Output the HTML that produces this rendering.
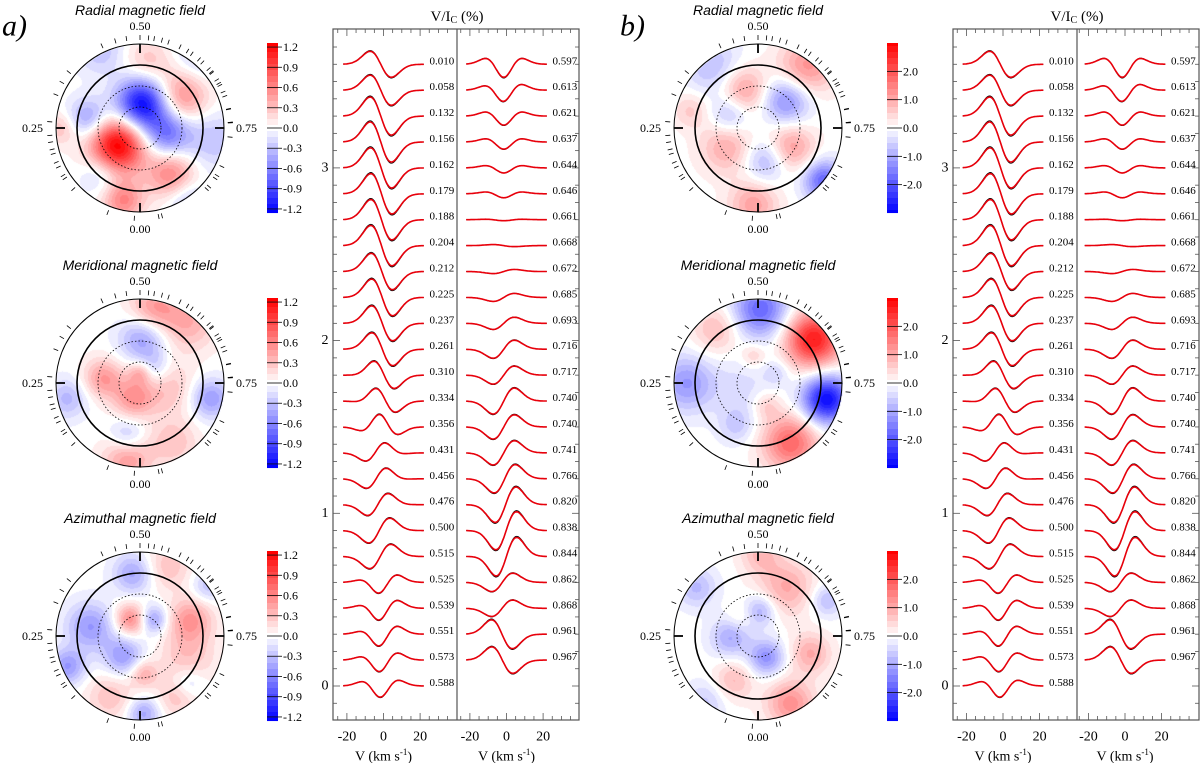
<!DOCTYPE html>
<html><head><meta charset="utf-8">
<style>
html,body{margin:0;padding:0;background:#fff;}
#wrap{position:relative;width:1200px;height:763px;overflow:hidden;background:#fff;}
canvas{position:absolute;}
svg{position:absolute;left:0;top:0;}
</style></head>
<body>
<div id="wrap">
<svg id="fig" width="1200" height="763" viewBox="0 0 1200 763"></svg>
</div>
<script>
// ---------- profile data ----------
const phasesLeft = ["0.010","0.058","0.132","0.156","0.162","0.179","0.188","0.204","0.212","0.225","0.237","0.261","0.310","0.334","0.356","0.431","0.456","0.476","0.500","0.515","0.525","0.539","0.551","0.573","0.588"];
const phasesRight = ["0.597","0.613","0.621","0.637","0.644","0.646","0.661","0.668","0.672","0.685","0.693","0.716","0.717","0.740","0.740","0.741","0.766","0.820","0.838","0.844","0.862","0.868","0.961","0.967"];
const antiLeft = [0.075,0.087,0.11,0.116,0.116,0.116,0.116,0.116,0.104,0.104,0.099,0.093,0.07,0.052,0.017,-0.035,-0.046,-0.058,-0.07,-0.07,-0.023,-0.023,-0.023,-0.017,-0.006];
const dipLeft = [0,0,0,0,-0.006,-0.012,-0.012,-0.012,-0.017,-0.023,-0.023,-0.023,-0.041,-0.052,-0.07,-0.046,-0.041,-0.029,-0.017,-0.006,0.058,0.064,0.064,0.064,0.064];
const antiRight = [0,-0.006,0,0,0,0,0,0.006,-0.012,-0.023,-0.035,-0.052,-0.052,-0.075,-0.07,-0.07,-0.081,-0.099,-0.104,-0.104,-0.052,-0.046,0.081,0.075];
const dipRight = [0.075,0.064,0.052,0.041,0.029,0.023,0.006,0,0,0,0,0,0,0,0,0,0.012,0.029,0.041,0.046,-0.012,-0.012,0.023,0.017];
const profileStep = 0.15;
const yTickLabels = ["0","1","2","3"];
const xTickLabels = ["-20","0","20"];
const colorbarLabelsA = ["1.2","0.9","0.6","0.3","0.0","-0.3","-0.6","-0.9","-1.2"];
const colorbarValuesA = [1.2,0.9,0.6,0.3,0,-0.3,-0.6,-0.9,-1.2];
const colorbarLabelsB = ["2.0","1.0","0.0","-1.0","-2.0"];
const colorbarValuesB = [2,1,0,-1,-2];
const mapTitles = ["Radial magnetic field","Meridional magnetic field","Azimuthal magnetic field"];
// map blobs: [dx, dy, sigma, amplitude]
const blobsA1 = [[2,-25,13,-1.25],[27,5,12,-0.7],[-23,17,14,1.3],[-52,-10,10,-0.5],[40,-31,13,0.6],[30,45,12,0.6],[7,-66,12,0.3],[-40,-78,12,-0.3],[60,-75,12,-0.3],[-80,0,8,0.3],[73,12,14,-0.3],[-17,72,10,0.6],[-40,45,10,-0.3],[47,72,10,-0.3]];
const blobsA2 = [[-37,-5,10,0.5],[-7,15,10,0.5],[0,-11,6,0.4],[13,-75,12,0.5],[47,-61,14,0.4],[27,5,14,0.3],[-13,75,12,0.5],[33,59,12,0.3],[3,-45,12,-0.5],[13,-15,8,-0.3],[-73,15,10,-0.35],[70,15,10,-0.5],[-13,52,9,-0.35]];
const blobsA3 = [[-10,-17,8,0.6],[13,-17,7,-0.5],[-50,-10,12,-0.5],[-17,20,10,-0.5],[-73,30,9,-0.5],[50,-17,11,0.5],[47,20,14,0.3],[3,37,7,0.4],[-7,-63,10,-0.45],[27,-70,12,0.3],[67,-50,8,-0.3],[-30,60,12,0.3],[3,77,8,-0.45],[37,60,10,0.3],[47,47,8,-0.3]];
const blobsB1 = [[-15,-38,12,1.2],[28,-28,12,-1.4],[-28,-14,10,-0.9],[-32,19,13,1.0],[32,19,12,1.2],[8,32,11,-1.0],[48,-61,14,1.3],[-45,-61,14,-0.8],[-5,76,12,1.1],[65,52,10,-1.8],[-68,-18,9,0.6]];
const blobsB2 = [[2,-74,14,-1.8],[55,-44,14,2.7],[68,16,12,-2.9],[32,59,14,1.8],[-72,0,14,-1.2],[-22,42,9,-0.6],[-42,-54,12,0.8],[-15,6,16,-0.4],[-5,-28,6,0.6],[18,-11,6,-0.5],[8,22,7,0.6]];
const blobsB3 = [[2,-26,8,-1.0],[-28,1,10,-1.0],[8,21,9,-1.3],[28,-49,14,1.0],[52,17,10,1.0],[-25,44,10,0.8],[32,67,12,1.3],[2,-83,10,0.8],[-62,-49,10,-0.8],[68,-36,8,-0.8],[-52,64,10,-0.6],[-18,-19,7,0.4]];

// ---------- helpers ----------
const NS="http://www.w3.org/2000/svg";
const svg=document.getElementById('fig');
const wrap=document.getElementById('wrap');
function mk(tag,attrs,parent){const e=document.createElementNS(NS,tag);for(const k in attrs)e.setAttribute(k,attrs[k]);(parent||svg).appendChild(e);return e;}
function txt(s,x,y,size,anchor,family,style,parent){const t=mk('text',{x:x,y:y,'font-size':size,'text-anchor':anchor||'middle','font-family':family||'"Liberation Serif",serif','font-style':style||'normal','dominant-baseline':'central'},parent);t.textContent=s;return t;}
function fieldColor(v,max){let t=v/max;if(t>1)t=1;if(t<-1)t=-1;const q=Math.round(t*14)/14;const s=Math.abs(q);if(s<0.5/14)return[255,255,255];const c=Math.round(255*(1-s));return q>0?[255,c,c]:[c,c,255];}

const R=84;
const SIG=1.4;
const mapCY=[128,383,636];
const phaseAll=phasesLeft.concat(phasesRight).map(Number);

function drawMap(cx,cy,blobs,max,title,name){
  const cv=document.createElement('canvas');
  cv.width=2*R+2;cv.height=2*R+2;cv.style.left=(cx-R-1)+'px';cv.style.top=(cy-R-1)+'px';
  
  
  wrap.insertBefore(cv,svg);
  const ctx=cv.getContext('2d');const img=ctx.createImageData(cv.width,cv.height);
  for(let y=0;y<cv.height;y++)for(let x=0;x<cv.width;x++){
    const dx=x-R-1,dy=y-R-1;if(dx*dx+dy*dy>R*R)continue;
    let v=0;for(const b of blobs){const ex=dx-b[0],ey=dy-b[1];const s=b[2]*SIG;v+=b[3]*Math.exp(-(ex*ex+ey*ey)/(2*s*s));}
    const c=fieldColor(v,max);const i=(y*cv.width+x)*4;img.data[i]=c[0];img.data[i+1]=c[1];img.data[i+2]=c[2];img.data[i+3]=255;}
  ctx.putImageData(img,0,0);
  const g=mk('g',{});
  
  
  mk('circle',{cx:cx,cy:cy,r:R,fill:'none',stroke:'#000','stroke-width':1},g);
  mk('circle',{cx:cx,cy:cy,r:63,fill:'none',stroke:'#000','stroke-width':1.6},g);
  mk('circle',{cx:cx,cy:cy,r:42,fill:'none',stroke:'#000','stroke-width':0.8,'stroke-dasharray':'1.5,2'},g);
  mk('circle',{cx:cx,cy:cy,r:21,fill:'none',stroke:'#000','stroke-width':0.8,'stroke-dasharray':'1.5,2'},g);
  for(const q of [0,0.25,0.5,0.75]){const a=2*Math.PI*q;const sx=-Math.sin(a),sy=Math.cos(a);
    mk('line',{x1:cx+sx*(R-9),y1:cy+sy*(R-9),x2:cx+sx*R,y2:cy+sy*R,stroke:'#000','stroke-width':1.8},g);}
  for(const p of phaseAll){const a=2*Math.PI*p;const sx=-Math.sin(a),sy=Math.cos(a);
    const t=mk('line',{x1:cx+sx*(R+4),y1:cy+sy*(R+4),x2:cx+sx*(R+9),y2:cy+sy*(R+9),stroke:'#000','stroke-width':0.8},g);
    
    }
  txt('0.50',cx,cy-102,12,'middle',null,null,g);
  txt('0.00',cx,cy+101,12,'middle',null,null,g);
  txt('0.25',cx-97,cy,12,'end',null,null,g);
  txt('0.75',cx+96,cy,12,'start',null,null,g);
  const tt=txt(title,cx,cy-118,14,'middle','"Liberation Sans",sans-serif','italic',g);
  
  
}
function drawColorbar(x,cy,max,vals,labels,name){
  const pxPer=85/max;const g=mk('g',{});
  
  
  for(let y=cy-85;y<cy+85;y++){const v=(cy-y-0.5)/pxPer;const c=fieldColor(v,max);
    mk('rect',{x:x,y:y,width:11,height:1.05,fill:`rgb(${c[0]},${c[1]},${c[2]})`},g);}
  vals.forEach((v,i)=>{const y=cy-v*pxPer;mk('line',{x1:x,y1:y,x2:x+15,y2:y,stroke:'#000','stroke-width':0.8},g);
    txt(labels[i],x+16,y,12,'start',null,null,g);});
}

// ---------- maps ----------
const blobsA=[blobsA1,blobsA2,blobsA3],blobsB=[blobsB1,blobsB2,blobsB3];
for(let k=0;k<3;k++){
  drawMap(140,mapCY[k],blobsA[k],1.26,mapTitles[k],'map-a-'+(k+1));
  drawColorbar(267,mapCY[k],1.26,colorbarValuesA,colorbarLabelsA,'colorbar-a-'+(k+1));
  drawMap(758,mapCY[k],blobsB[k],3.0,mapTitles[k],'map-b-'+(k+1));
  drawColorbar(887,mapCY[k],3.0,colorbarValuesB,colorbarLabelsB,'colorbar-b-'+(k+1));
}
const la=txt('a)',2,26,30,'start','"Liberation Serif",serif','italic');


const lb=txt('b)',620,26,30,'start','"Liberation Serif",serif','italic');



// ---------- profile panels ----------
const W=5.8,C=-1.5;
function d1(u){return -(u/W)*Math.exp(0.5-u*u/(2*W*W));}
function d2(u){return -(1-u*u/(W*W))*Math.exp(-u*u/(2*W*W));}
function drawProfiles(left,mid,right,zeroL,zeroR,name){
  const top=29,bottom=720;const pxPerV=1.83;
  const yv=v=>686-v*172.7;
  const g=mk('g',{});
  
  
  mk('rect',{x:left,y:top,width:right-left,height:bottom-top,fill:'none',stroke:'#555','stroke-width':1.2},g);
  mk('line',{x1:mid,y1:top,x2:mid,y2:bottom,stroke:'#555','stroke-width':1.2},g);
  for(let k=-2;k<=38;k++){const y=yv(k/10);if(y<top+2||y>bottom-2)continue;const L=(k%10===0)?7:4;
    mk('line',{x1:left,y1:y,x2:left+L,y2:y,stroke:'#555','stroke-width':0.8},g);
    mk('line',{x1:right,y1:y,x2:right-L,y2:y,stroke:'#555','stroke-width':0.8},g);}
  yTickLabels.forEach((s,i)=>{const t=txt(s,left-8,yv(i),14,'middle',null,null,g);
    
    });
  [[zeroL,left,mid],[zeroR,mid,right]].forEach(([z,a,b])=>{
    for(let v=-25;v<=35;v+=5){const x=z+v*pxPerV;if(x<=a+1||x>=b-1)continue;const L=(v%20===0)?7:4;
      mk('line',{x1:x,y1:bottom,x2:x,y2:bottom-L,stroke:'#555','stroke-width':0.8},g);
      mk('line',{x1:x,y1:top,x2:x,y2:top+L,stroke:'#555','stroke-width':0.8},g);}
    xTickLabels.forEach(s=>{const t=txt(s,z+Number(s)*pxPerV,737,14,'middle',null,null,g);
      
      });
    const xt=mk('text',{x:z,y:757,'font-size':14,'text-anchor':'middle','font-family':'"Liberation Serif",serif','dominant-baseline':'central'},g);
    xt.innerHTML='V (km s<tspan dy="-5" font-size="9">-1</tspan><tspan dy="5">)</tspan>';
    
    
  });
  const yt=mk('text',{x:mid,y:17,'font-size':15,'text-anchor':'middle','font-family':'"Liberation Serif",serif','dominant-baseline':'central'},g);
  yt.innerHTML='V/I<tspan dy="3" font-size="10">C</tspan><tspan dy="-3"> (%)</tspan>';
  
  
  function prof(z,base,A,S,labelX,label){
    let ptsO='',ptsM='';
    for(let v=-22;v<=22;v+=0.5){const u=v-C;const val=A*d1(u)+S*d2(u);
      const x=(z+v*pxPerV).toFixed(1);ptsM+=x+','+yv(base+val).toFixed(1)+' ';
      ptsO+=x+','+yv(base+val*1.06).toFixed(1)+' ';}
    const o=mk('polyline',{points:ptsO,fill:'none',stroke:'#000','stroke-width':0.9},g);
    
    
    const m=mk('polyline',{points:ptsM,fill:'none',stroke:'#e8000b','stroke-width':1.6},g);
    
    
    const t=txt(label,labelX,yv(base)-3,11,'start',null,null,g);
    
    
  }
  phasesLeft.forEach((p,i)=>prof(zeroL,profileStep*(24-i),antiLeft[i],dipLeft[i],zeroL+46,p));
  phasesRight.forEach((p,j)=>prof(zeroR,profileStep*(24-j),antiRight[j],dipRight[j],zeroR+46,p));
}
drawProfiles(333,457,579,383.5,506.5,'profiles-panel-a');
drawProfiles(953,1077,1199,1003,1125,'profiles-panel-b');
</script>
</body></html>
